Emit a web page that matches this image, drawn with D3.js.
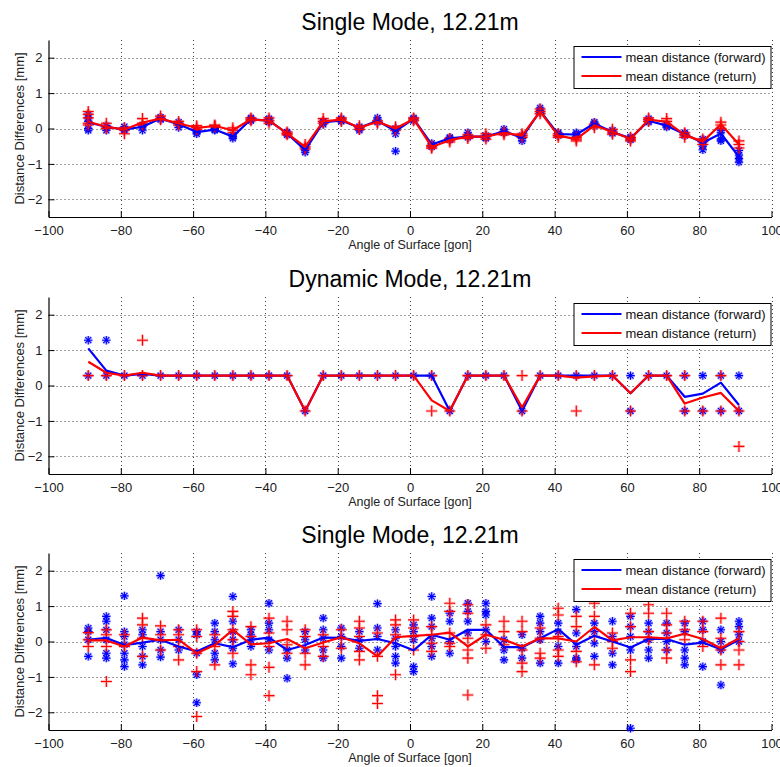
<!DOCTYPE html>
<html>
<head>
<meta charset="utf-8">
<script src="https://cdn.jsdelivr.net/npm/d3@7"></script>
<style>
  html, body { margin: 0; padding: 0; background: #fff; }
  svg { display: block; font-family: "Liberation Sans", Arial, sans-serif; }
</style>
</head>
<body>
<svg id="chart" width="780" height="767"></svg>
<script>
// Incidence angles of the measured surface (gon)
const angles = [-89,-84,-79,-74,-69,-64,-59,-54,-49,-44,-39,-34,-29,-24,-19,-14,-9,-4,1,
                6,11,16,21,26,31,36,41,46,51,56,61,66,71,76,81,86,91];

const titles = ["Single Mode, 12.21m", "Dynamic Mode, 12.21m", "Single Mode, 12.21m"];
const xLabel = "Angle of Surface [gon]";
const yLabel = "Distance Differences [mm]";
const legendLabels = ["mean distance (forward)", "mean distance (return)"];
const xTicks = [-100,-80,-60,-40,-20,0,20,40,60,80,100];
const yTicks = [-2,-1,0,1,2];

// ---- Panel 1: single mode ----
const fwdMean1 = [0.17,0.05,-0.03,0.05,0.28,0.12,-0.10,-0.03,-0.23,0.26,0.22,-0.14,-0.61,0.17,0.23,0.02,0.22,-0.07,0.27,
                  -0.45,-0.28,-0.23,-0.23,-0.08,-0.26,0.50,-0.16,-0.17,0.14,-0.10,-0.28,0.22,0.08,-0.16,-0.40,-0.14,-0.80];
const retMean1 = [0.19,0.05,-0.03,0.17,0.28,0.14,0.02,0.07,-0.05,0.26,0.22,-0.14,-0.52,0.20,0.25,0.02,0.19,0.00,0.27,
                  -0.52,-0.33,-0.23,-0.23,-0.12,-0.20,0.48,-0.20,-0.30,0.09,-0.10,-0.29,0.25,0.19,-0.18,-0.37,0.12,-0.45];
const fwdPts1 = [[0.40,0.30,0.20,0.00,-0.05],[0.08,0.02,-0.05],[0.05,-0.02,-0.05],[0.10,0.05,-0.05],[0.32,0.28,0.25],
  [0.18,0.10,0.03],[-0.05,-0.10,-0.15],[0.00,-0.03,-0.05],[-0.18,-0.23,-0.28],[0.30,0.26,0.22],[0.28,0.22,0.18],
  [-0.10,-0.14,-0.18],[-0.55,-0.61,-0.67],[0.20,0.17,0.12],[0.28,0.24,0.20],[0.05,0.00,-0.05],[0.30,0.24,0.18],
  [0.00,-0.05,-0.15,-0.64],[0.30,0.26,0.22],[-0.42,-0.47,-0.52],[-0.25,-0.28,-0.32],[-0.12,-0.20,-0.25],
  [-0.20,-0.24,-0.28],[-0.02,-0.08,-0.12],[-0.20,-0.28,-0.35],[0.58,0.52,0.46],[-0.12,-0.16,-0.20],
  [-0.12,-0.17,-0.22],[0.18,0.14,0.08],[-0.05,-0.10,-0.14],[-0.24,-0.28,-0.32],[0.28,0.22,0.18],[0.12,0.08,0.04],
  [-0.12,-0.16,-0.20],[-0.30,-0.40,-0.50,-0.60],[-0.05,-0.12,-0.30,-0.35],[-0.62,-0.75,-0.85,-0.95]];
const retPts1 = [[0.48,0.40,0.30,0.15,0.10],[0.15,0.05,0.00],[0.02,-0.05,-0.15],[0.28,0.15,0.10],[0.35,0.28,0.25],
  [0.20,0.14,0.10],[0.08,0.02,-0.03],[0.10,0.08,0.05],[0.02,-0.05,-0.12],[0.30,0.26,0.22],[0.30,0.22,0.15],
  [-0.10,-0.14,-0.18],[-0.45,-0.52,-0.58],[0.28,0.20,0.15],[0.30,0.26,0.20],[0.08,0.02,-0.03],[0.22,0.18,0.15],
  [0.05,0.00,-0.05],[0.30,0.27,0.22],[-0.48,-0.52,-0.56],[-0.28,-0.33,-0.38],[-0.18,-0.23,-0.28],
  [-0.15,-0.22,-0.30],[-0.10,-0.13,-0.18],[-0.15,-0.20,-0.25],[0.55,0.48,0.42],[-0.15,-0.20,-0.25],
  [-0.25,-0.30,-0.35],[0.12,0.08,0.02],[-0.02,-0.10,-0.16],[-0.25,-0.30,-0.35],[0.30,0.25,0.20],[0.28,0.20,0.12],
  [-0.12,-0.18,-0.25],[-0.30,-0.37,-0.45],[0.18,0.10,0.00],[-0.35,-0.45,-0.55]];

// ---- Panel 2: dynamic mode ----
const fwdMean2 = [1.05,0.42,0.28,0.33,0.28,0.28,0.28,0.28,0.28,0.28,0.28,0.28,-0.72,0.28,0.28,0.28,0.28,0.28,0.28,
                  0.28,-0.72,0.28,0.28,0.28,-0.72,0.28,0.28,0.28,0.28,0.28,-0.22,0.28,0.28,-0.32,-0.23,0.08,-0.55];
const retMean2 = [0.67,0.36,0.28,0.36,0.28,0.28,0.28,0.28,0.28,0.28,0.28,0.28,-0.72,0.28,0.28,0.28,0.28,0.28,0.28,
                  -0.42,-0.72,0.28,0.28,0.28,-0.62,0.28,0.28,0.22,0.26,0.28,-0.22,0.28,0.28,-0.51,-0.34,-0.21,-0.72];
const fwdPts2 = [[1.28,0.28],[1.28,0.28],[0.28],[0.28],[0.28],[0.28],[0.28],[0.28],[0.28],[0.28],[0.28],[0.28],
  [-0.72],[0.28],[0.28],[0.28],[0.28],[0.28],[0.28],[0.28],[-0.72],[0.28],[0.28],[0.28],[-0.72],[0.28],[0.28],
  [0.28],[0.28],[0.28],[0.28,-0.72],[0.28],[0.28],[0.28,-0.72],[0.28,-0.72],[0.28,-0.72],[0.28,-0.72]];
const retPts2 = [[0.28],[0.28],[0.28],[1.28,0.28],[0.28],[0.28],[0.28],[0.28],[0.28],[0.28],[0.28],[0.28],
  [-0.72],[0.28],[0.28],[0.28],[0.28],[0.28],[0.28],[0.28,-0.72],[-0.72],[0.28],[0.28],[0.28],[0.28,-0.72],[0.28],[0.28],
  [0.28,-0.72],[0.28],[0.28],[-0.72],[0.28],[0.28],[0.28,-0.72],[-0.72],[0.28,-0.72],[-0.72,-1.72]];

// ---- Panel 3: single mode, repeated series ----
const fwdMean3 = [0.05,0.10,-0.10,-0.03,0.05,-0.14,-0.28,-0.05,-0.16,0.05,0.11,-0.24,-0.10,0.11,0.10,0.02,0.07,-0.05,-0.25,
                  0.19,0.05,0.33,0.33,-0.16,-0.16,0.09,0.35,-0.09,0.16,0.00,-0.17,0.07,0.07,-0.09,-0.03,-0.22,0.05];
const retMean3 = [0.03,0.03,-0.14,0.11,0.03,0.05,-0.33,-0.10,0.33,-0.08,-0.05,0.07,-0.19,-0.03,0.12,-0.05,-0.42,0.12,0.16,
                  0.19,0.25,-0.14,0.19,0.05,-0.14,0.09,0.09,0.00,0.41,0.03,0.12,0.12,0.09,0.22,0.07,-0.19,0.09];
const fwdPts3 = [[0.38,0.28,0.05,-0.42],[0.71,0.57,0.33,0.05,-0.33,-0.47],[1.29,0.28,0.14,-0.09,-0.33,-0.52,-0.71],
  [0.33,0.19,-0.14,-0.42,-0.66],[1.86,0.28,0.05,-0.24,-0.44],[0.33,0.05,-0.24],[0.28,0.19,-0.33,-0.94,-1.73],
  [0.52,0.28,0.05,-0.33,-0.52],[1.27,0.57,0.28,0.05,-0.19,-0.63],[0.33,0.19,0.05,-0.14],[1.08,0.52,0.33,0.05,-0.24],
  [-0.24,-0.47,-1.04],[0.28,0.05,-0.24],[0.66,0.33,0.09,-0.24,-0.47],[0.38,0.14,-0.14,-0.47],[0.28,0.05,-0.19],
  [1.07,0.38,0.14,-0.24],[0.33,0.09,-0.14,-0.42,-0.61],[0.47,0.28,0.05,-0.71,-0.85],
  [1.27,0.66,0.42,0.09,-0.14,-0.42],[0.80,0.57,0.00,-0.33],[1.08,0.85,0.57,0.24],[1.08,0.85,0.75,0.33,0.00],
  [0.05,-0.24,-0.52],[0.19,-0.19,-0.47],[0.71,0.52,0.28,0.05,-0.61],[0.52,0.28,-0.14,-0.61],
  [0.90,0.24,-0.14,-0.47,-0.52],[0.52,0.28,-0.05,-0.42],[0.57,0.14,-0.33,-0.66],[0.71,0.42,0.14,-0.24,-2.45],
  [0.52,0.28,0.05,-0.24,-0.47],[0.52,0.24,0.00,-0.24],[0.52,0.28,-0.24,-0.47,-0.66],[0.57,0.33,0.00,-0.71],
  [0.33,0.00,-0.24,-1.23],[0.57,0.42,0.19,0.00]];
const retPts3 = [[0.25,0.05,-0.14],[0.33,0.19,-0.14,-1.13],[0.19,-0.14],[0.66,0.47,0.09,-0.42],[0.44,0.19,-0.24],
  [0.33,0.19,-0.14,-0.52],[0.33,0.14,-0.33,-0.85,-2.12],[0.19,-0.14,-0.66],[0.85,0.71,0.33,0.05,-0.33],
  [0.42,0.14,-0.66,-0.94],[0.66,0.24,-0.14,-0.73,-1.53],[0.57,0.33,-0.09,-0.33],[0.33,0.14,-0.33,-0.66],
  [0.19,-0.14,-0.42],[0.33,0.09,-0.19],[0.57,0.38,0.14,-0.28,-0.52],[0.24,-0.42,-1.53,-1.75],[0.61,0.47,0.19,-0.94],
  [0.61,0.38,0.14,-0.24],[0.42,0.19,-0.05,-0.28],[1.08,0.85,0.24,-0.05,-0.14],[1.04,0.80,0.09,-0.24,-0.47,-1.51],
  [0.47,0.19,-0.19],[0.57,0.28,-0.09],[0.57,0.28,-0.24,-0.61,-0.85],[0.38,0.09,-0.33,-0.47],
  [0.94,0.75,0.14,-0.24,-0.42],[0.71,0.42,-0.28,-0.57],[1.08,0.71,0.14,-0.66],[0.24,0.00,-0.19],
  [0.80,0.42,-0.52,-0.85],[1.04,0.80,0.28,0.05],[0.80,0.47,0.24,-0.24,-0.47],[0.57,0.33,0.05],[0.57,0.28,-0.14],
  [0.66,0.09,-0.24,-0.66],[0.28,0.00,-0.24,-0.66]];

const panels = [
  { title: titles[0], fwdMean: fwdMean1, retMean: retMean1, fwdPts: fwdPts1, retPts: retPts1 },
  { title: titles[1], fwdMean: fwdMean2, retMean: retMean2, fwdPts: fwdPts2, retPts: retPts2 },
  { title: titles[2], fwdMean: fwdMean3, retMean: retMean3, fwdPts: fwdPts3, retPts: retPts3 }
];

const BLUE = "#0000ff", RED = "#ff0000";
const svg = d3.select("#chart");
const left = 48.5, right = 771.5, plotH = 177;
const tops = [40, 297, 553];

const x = d3.scaleLinear().domain([-100, 100]).range([left, right]);

function asterisk(r) {
  const d = r * 0.72;
  return `M${-r},0L${r},0M0,${-r}L0,${r}M${-d},${-d}L${d},${d}M${-d},${d}L${d},${-d}`;
}
function plus(r) { return `M${-r},0L${r},0M0,${-r}L0,${r}`; }

panels.forEach((p, i) => {
  const top = tops[i], bottom = top + plotH;
  const y = d3.scaleLinear().domain([-2.5, 2.5]).range([bottom, top]);
  const g = svg.append("g");

  // dotted grid
  g.append("g").selectAll("line").data(xTicks.filter(t => t > -100)).join("line")
    .attr("x1", d => Math.round(x(d)) + 0.5).attr("x2", d => Math.round(x(d)) + 0.5)
    .attr("y1", top).attr("y2", bottom)
    .attr("stroke", "#000").attr("stroke-width", 1).attr("stroke-dasharray", "1,3").attr("opacity", 0.75);
  g.append("g").selectAll("line").data(yTicks).join("line")
    .attr("x1", left).attr("x2", right)
    .attr("y1", d => Math.round(y(d)) + 0.5).attr("y2", d => Math.round(y(d)) + 0.5)
    .attr("stroke", "#000").attr("stroke-width", 1).attr("stroke-dasharray", "1,3").attr("opacity", 0.75);

  // axes with inward ticks
  const fmt = d3.format("d");
  const xAxis = d3.axisBottom(x).tickValues(xTicks).tickFormat(fmt).tickSizeInner(-6).tickSizeOuter(0).tickPadding(9);
  const yAxis = d3.axisLeft(y).tickValues(yTicks).tickFormat(fmt).tickSizeInner(-6).tickSizeOuter(0).tickPadding(6);
  const gx = g.append("g").attr("transform", `translate(0,${bottom})`).call(xAxis);
  const gy = g.append("g").attr("transform", `translate(${left},0)`).call(yAxis);
  [gx, gy].forEach(ax => {
    ax.select(".domain").attr("stroke", "#000").attr("stroke-width", 1.2);
    ax.selectAll(".tick line").attr("stroke", "#000");
    ax.selectAll(".tick text").attr("font-size", 13).attr("fill", "#1a1a1a")
      .attr("font-family", "'Liberation Sans', Arial, sans-serif");
  });

  // scatter points: forward (asterisks), return (plus signs)
  const flat = (pts) => pts.flatMap((vals, k) => vals.map(v => ({ a: angles[k], v })));
  const drawPts = (pts, path, color) => {
    const sel = g.append("g").selectAll("path").data(flat(pts)).join("path")
      .attr("transform", d => `translate(${x(d.a)},${y(d.v)})`)
      .attr("fill", "none");
    sel.clone().attr("d", path).attr("stroke", color).attr("stroke-width", 3).attr("opacity", 0.25);
    sel.attr("d", path).attr("stroke", color).attr("stroke-width", 1.1);
  };
  drawPts(p.fwdPts, asterisk(4.2), BLUE);
  drawPts(p.retPts, plus(5.5), RED);

  // mean lines
  const line = d3.line().x((d, k) => x(angles[k])).y(d => y(d));
  g.append("path").datum(p.fwdMean).attr("d", line).attr("fill", "none")
    .attr("stroke", BLUE).attr("stroke-width", 2.2).attr("stroke-linejoin", "round");
  g.append("path").datum(p.retMean).attr("d", line).attr("fill", "none")
    .attr("stroke", RED).attr("stroke-width", 2.2).attr("stroke-linejoin", "round");

  // title and axis labels
  svg.append("text").attr("x", 410).attr("y", top - 10).attr("text-anchor", "middle")
    .attr("font-size", 23).attr("fill", "#000").text(p.title);
  svg.append("text").attr("x", 410).attr("y", bottom + 32).attr("text-anchor", "middle")
    .attr("font-size", 12.5).attr("fill", "#222").text(xLabel);
  svg.append("text").attr("transform", `translate(24,${(top + bottom) / 2}) rotate(-90)`)
    .attr("text-anchor", "middle").attr("font-size", 13).attr("fill", "#222").text(yLabel);

  // legend
  const lw = 197, lh = 42, lx = right - lw - 1, ly = top + 6;
  const lg = svg.append("g").attr("transform", `translate(${lx},${ly})`);
  lg.append("rect").attr("x", 0.5).attr("y", 0.5).attr("width", lw).attr("height", lh)
    .attr("fill", "#fff").attr("stroke", "#000").attr("stroke-width", 1);
  [BLUE, RED].forEach((c, k) => {
    const yy = 11 + k * 19;
    lg.append("line").attr("x1", 8).attr("x2", 48).attr("y1", yy).attr("y2", yy)
      .attr("stroke", c).attr("stroke-width", 2.2);
    lg.append("text").attr("x", 52).attr("y", yy + 4.5).attr("font-size", 13).attr("fill", "#111")
      .text(legendLabels[k]);
  });
});
</script>
</body>
</html>
